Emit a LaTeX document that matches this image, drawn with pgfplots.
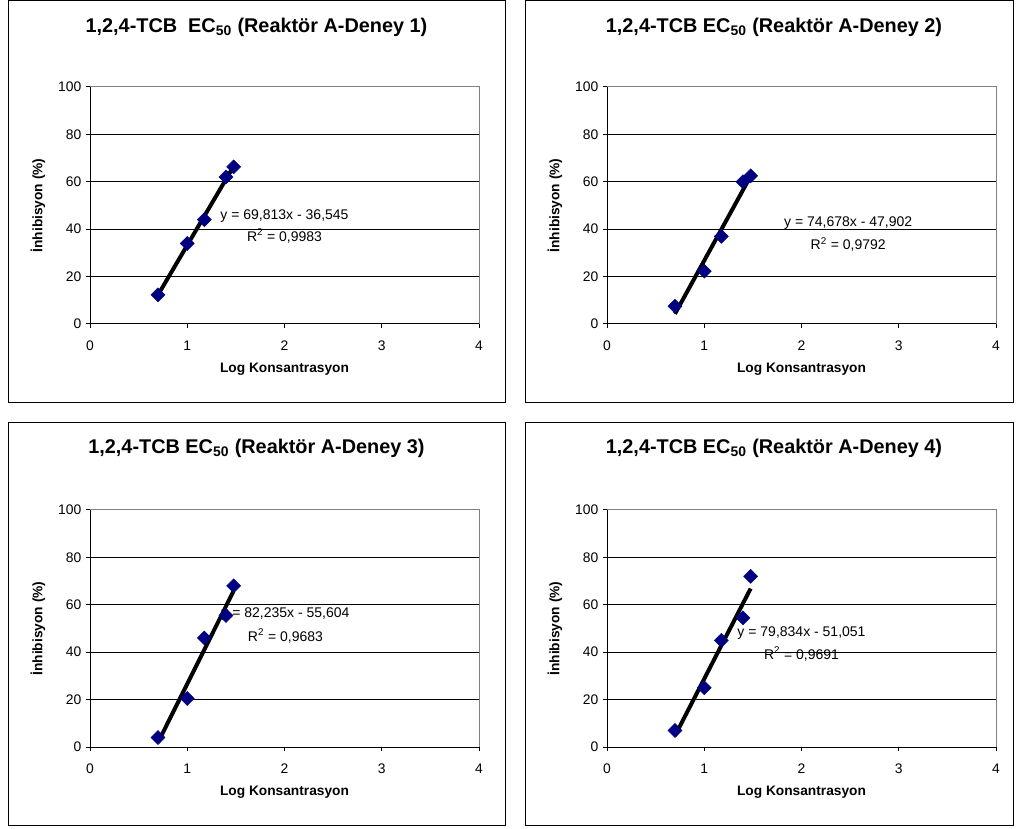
\documentclass[border=0pt]{standalone}
\usepackage{fontspec}
\setmainfont{Liberation Sans}
\usepackage{pgfplots}
\pgfplotsset{compat=1.18}
\definecolor{mknavy}{HTML}{000080}
\definecolor{frgray}{HTML}{808080}

\pgfplotsset{
  ecpanel/.style={
    width=291.75pt, height=177.75pt, scale only axis,
    xmin=0, xmax=4, ymin=0, ymax=100,
    xtick={0,1,2,3,4}, ytick={0,20,40,60,80,100},
    axis x line*=bottom, axis y line*=left,
    axis line style={black, line width=0.75pt},
    tick align=outside, major tick length=3pt,
    tick style={black, line width=0.75pt},
    ymajorgrids, grid style={black, line width=0.75pt},
    /pgf/number format/assume math mode=true,
    ticklabel style={font=\fontsize{10.4}{12}\selectfont},
    xticklabel style={yshift=-6pt},
    xlabel={Log Konsantrasyon},
    ylabel={İnhibisyon (\%)},
    label style={font=\fontsize{10.3}{12}\selectfont\bfseries},
    xlabel style={at={(axis description cs:0.5,-0.19)}, anchor=center},
    ylabel style={at={(axis description cs:-0.134,0.5)}, anchor=center},
    after end axis/.code={
      \draw[frgray, line width=0.75pt] (rel axis cs:0,1) -- (rel axis cs:1,1) -- (rel axis cs:1,0);
    },
  },
  pts/.style={only marks, mark=square*, mark size=3.7pt,
    mark options={rotate=45, fill=mknavy, draw=mknavy}},
  fit/.style={no marks, black, line width=3pt},
}
\tikzset{eq/.style={font=\fontsize{10.5}{12}\selectfont, align=center}}

\begin{document}
\begin{tikzpicture}
% panel frames and titles, in pixel coordinates of the reference
\begin{scope}[x=0.75pt, y=-0.75pt, shift={(0pt,621pt)}]
  \draw[black, line width=0.75pt] (8,1) rectangle (505,403);
  \draw[black, line width=0.75pt] (525,1) rectangle (1013,403);
  \draw[black, line width=0.75pt] (8,423) rectangle (505,825);
  \draw[black, line width=0.75pt] (525,423) rectangle (1013,825);
  \node[font=\fontsize{14.9}{17}\selectfont\bfseries] at (256.5,27) {1,2,4-TCB\ \ EC\textsubscript{50} (Reaktör A-Deney 1)};
  \node[font=\fontsize{14.9}{17}\selectfont\bfseries] at (774,27) {1,2,4-TCB EC\textsubscript{50} (Reaktör A-Deney 2)};
  \node[font=\fontsize{14.9}{17}\selectfont\bfseries] at (256.5,448) {1,2,4-TCB EC\textsubscript{50} (Reaktör A-Deney 3)};
  \node[font=\fontsize{14.9}{17}\selectfont\bfseries] at (774,448) {1,2,4-TCB EC\textsubscript{50} (Reaktör A-Deney 4)};
\end{scope}

% Deney 1
\begin{axis}[ecpanel, at={(67.5pt,378pt)}, anchor=south west]
\addplot[pts] coordinates {(0.699,12.3) (1.000,34.0) (1.176,44.0) (1.398,62.0) (1.477,66.3)};
\addplot[fit] coordinates {(0.699,12.25) (1.477,66.57)};
\node[eq] at (axis cs:2.0,45.6) {y = 69,813x - 36,545};
\node[eq] at (axis cs:2.0,37.1) {R\textsuperscript{2} = 0,9983};
\end{axis}

% Deney 2
\begin{axis}[ecpanel, at={(455.25pt,378pt)}, anchor=south west]
\addplot[pts] coordinates {(0.699,7.5) (1.000,22.3) (1.176,37.0) (1.398,60.0) (1.477,62.5)};
\addplot[fit] coordinates {(0.699,4.30) (1.477,62.40)};
\node[eq] at (axis cs:2.48,42.7) {y = 74,678x - 47,902};
\node[eq] at (axis cs:2.48,33.7) {R\textsuperscript{2} = 0,9792};
\end{axis}

% Deney 3
\begin{axis}[ecpanel, at={(67.5pt,60.75pt)}, anchor=south west]
\addplot[pts] coordinates {(0.699,4.0) (1.000,20.5) (1.176,46.0) (1.398,55.5) (1.477,68.0)};
\addplot[fit] coordinates {(0.699,1.88) (1.477,65.86)};
\node[eq] at (axis cs:2.01,55.9) {y = 82,235x - 55,604};
\node[eq] at (axis cs:2.01,46.8) {R\textsuperscript{2} = 0,9683};
\end{axis}

% Deney 4
\begin{axis}[ecpanel, at={(455.25pt,60.75pt)}, anchor=south west]
\addplot[pts] coordinates {(0.699,7.0) (1.000,25.0) (1.176,45.0) (1.398,54.5) (1.477,72.0)};
\addplot[fit] coordinates {(0.699,4.75) (1.477,66.87)};
\node[eq] at (axis cs:2.0,48.0) {y = 79,834x - 51,051};
\node[eq] at (axis cs:2.0,39.2) {R\textsuperscript{2} = 0,9691};
\end{axis}

\pgfresetboundingbox
\path (0pt,0pt) rectangle (762pt,621pt);
\end{tikzpicture}
\end{document}
